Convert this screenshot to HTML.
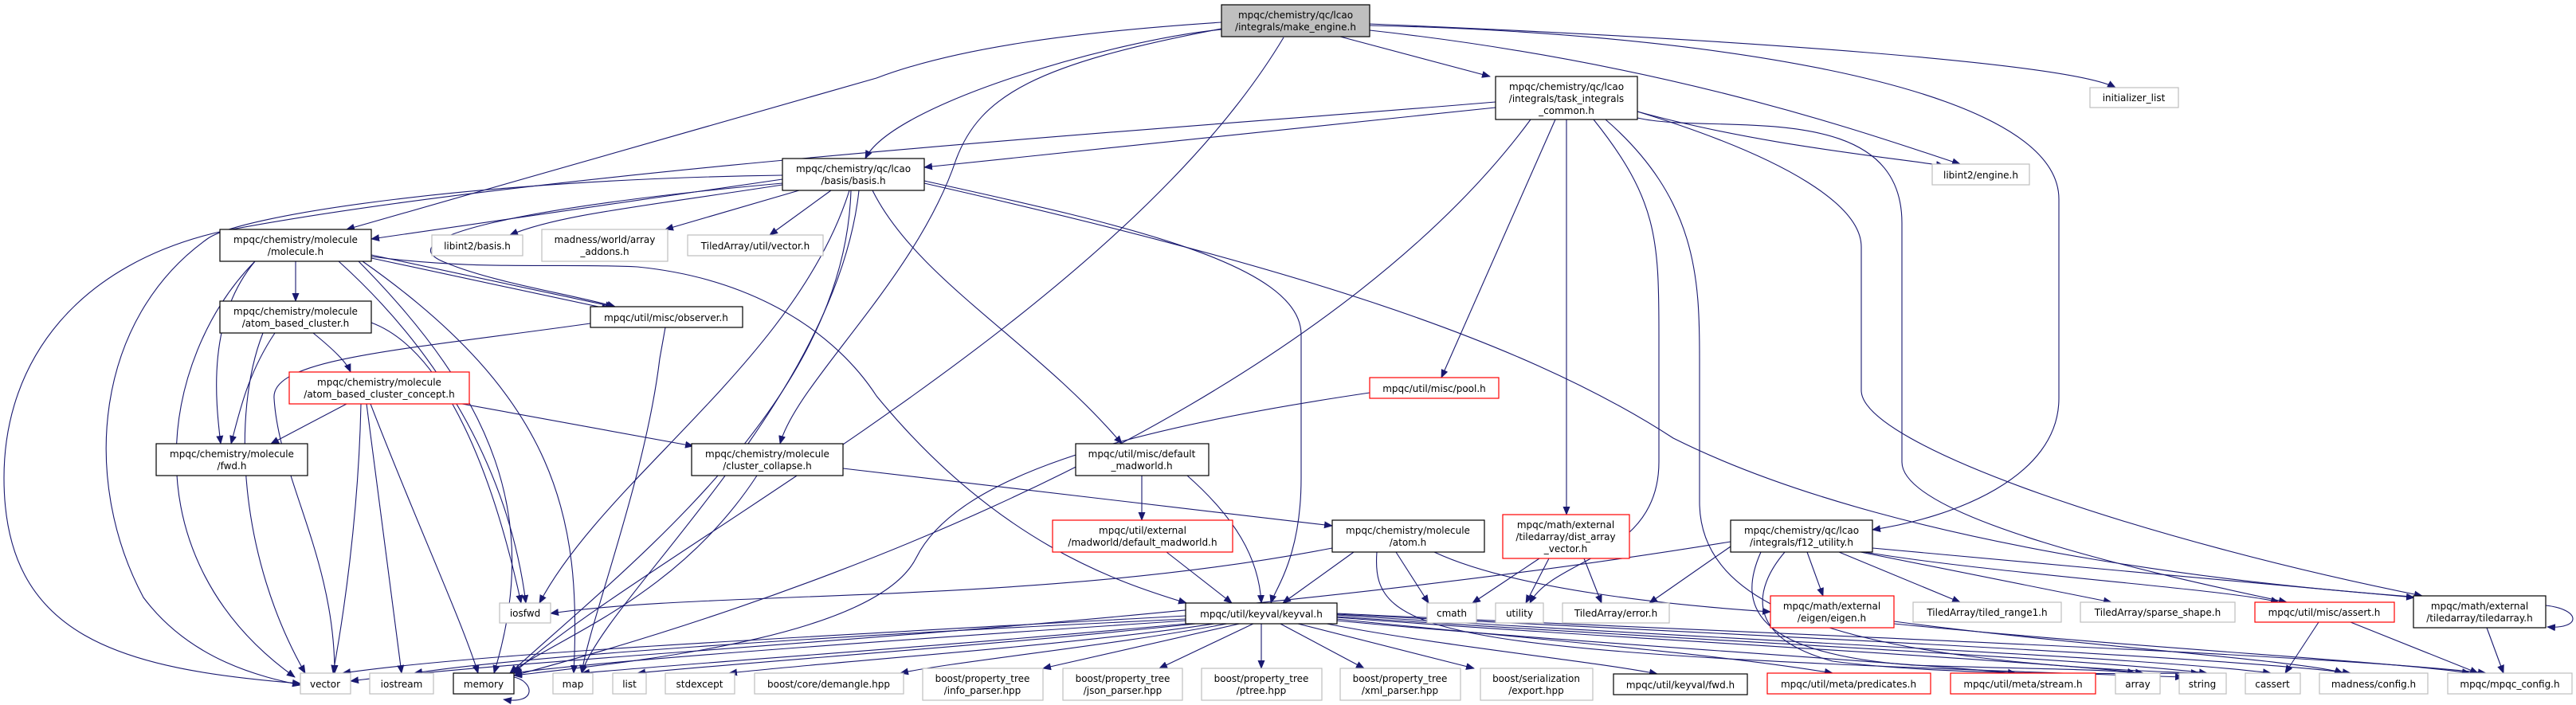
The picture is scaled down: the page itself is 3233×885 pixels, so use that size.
<!DOCTYPE html>
<html><head><meta charset="utf-8"><style>
html,body{margin:0;padding:0;background:#fff;}
svg{display:block;}
text{font-family:"DejaVu Sans","Liberation Sans",sans-serif;font-size:12px;fill:#000;text-anchor:middle;}
.e{fill:none;stroke:#191970;stroke-width:1.1;marker-end:url(#a);}
.b{fill:#fff;stroke:#000;stroke-width:1.2;}
.g{fill:#fff;stroke:#bfbfbf;stroke-width:1.2;}
.r{fill:#fff;stroke:#ff0000;stroke-width:1.2;}
</style></head><body>
<svg width="3233" height="885" viewBox="0 0 3233 885" xmlns="http://www.w3.org/2000/svg">
<defs><marker id="a" markerWidth="11" markerHeight="9" refX="10" refY="4.5" orient="auto" markerUnits="userSpaceOnUse"><path d="M0,0 L11,4.5 L0,9z" fill="#191970"/></marker></defs>
<!-- edges -->
<g>
<path class="e" d="M1682,46 L1870,96"/>
<path class="e" d="M1533,37 C1400,50 1120,130 1086,199"/>
<path class="e" d="M1533,28 C1350,40 1200,60 1100,98 L435,288"/>
<path class="e" d="M1533,36 C1300,80 1230,120 1200,200 C1150,350 1000,480 979,557"/>
<path class="e" d="M1611,47 C1400,400 800,700 645,845"/>
<path class="e" d="M1719,38 C2100,80 2350,170 2460,206"/>
<path class="e" d="M1719,30 C2200,50 2600,80 2655,110"/>
<path class="e" d="M1719,32 C2100,40 2584,100 2584,250 L2584,500 C2584,600 2450,650 2350,665"/>
<path class="e" d="M1877,135 L1160,210"/>
<path class="e" d="M1877,128 C1500,160 700,210 280,290 C100,330 5,450 5,600 C5,800 150,840 377,858"/>
<path class="e" d="M2055,140 C2200,180 2350,195 2440,208"/>
<path class="e" d="M1952,150 L1809,474"/>
<path class="e" d="M1966,150 L1966,646"/>
<path class="e" d="M1921,150 C1700,450 1200,700 645,848"/>
<path class="e" d="M2000,150 C2080,250 2082,300 2082,420 L2082,580 C2082,700 1950,700 1920,757"/>
<path class="e" d="M2015,150 C2130,250 2133,350 2133,450 L2133,630 C2133,760 2300,830 2760,845"/>
<path class="e" d="M2055,140 C2250,200 2336,260 2336,310 L2336,490 C2336,560 2700,680 3040,748"/>
<path class="e" d="M2055,148 C2150,170 2387,120 2387,280 L2387,580 C2387,650 2700,720 2870,756"/>
<path class="e" d="M982,225 L466,300"/>
<path class="e" d="M982,232 C800,260 700,270 640,295"/>
<path class="e" d="M1003,239 L835,288"/>
<path class="e" d="M1043,239 L966,295"/>
<path class="e" d="M982,220 C600,225 300,270 260,300 C120,400 100,600 180,750 C240,830 330,850 377,860"/>
<path class="e" d="M1066,239 C1000,450 760,600 677,757"/>
<path class="e" d="M1068,239 C1060,500 800,700 640,845"/>
<path class="e" d="M1078,239 C1050,500 760,750 730,845"/>
<path class="e" d="M1095,239 C1150,350 1300,430 1408,557"/>
<path class="e" d="M982,230 C650,260 480,300 560,330 C620,355 720,370 772,385"/>
<path class="e" d="M1160,227 C1400,280 1633,330 1633,420 L1633,600 C1633,700 1600,740 1595,757"/>
<path class="e" d="M1160,230 C1600,330 1900,420 2100,550 C2400,700 2900,740 3040,750"/>
<path class="e" d="M371,328 L371,378"/>
<path class="e" d="M320,328 C260,400 270,500 277,557"/>
<path class="e" d="M320,328 C200,450 160,700 370,850"/>
<path class="e" d="M425,328 C560,450 640,600 660,757"/>
<path class="e" d="M450,328 C620,500 680,650 620,845"/>
<path class="e" d="M455,328 C700,500 730,650 720,845"/>
<path class="e" d="M466,320 L770,385"/>
<path class="e" d="M466,324 L765,388"/>
<path class="e" d="M466,322 C600,340 700,330 800,335 C950,350 1050,420 1100,497 C1250,680 1400,730 1489,757"/>
<path class="e" d="M393,418 C420,440 435,455 440,467"/>
<path class="e" d="M345,418 C310,470 300,520 290,557"/>
<path class="e" d="M330,418 C290,520 300,700 383,845"/>
<path class="e" d="M466,405 C560,440 620,600 654,757"/>
<path class="e" d="M435,507 L340,557"/>
<path class="e" d="M580,507 L870,560"/>
<path class="e" d="M453,507 C450,650 430,780 418,845"/>
<path class="e" d="M460,507 L504,845"/>
<path class="e" d="M465,507 C520,650 580,780 600,845"/>
<path class="e" d="M741,406 C500,440 340,450 344,500 C350,600 420,700 420,845"/>
<path class="e" d="M835,411 L828,450 C810,600 740,780 730,845"/>
<path class="e" d="M1058,588 L1672,660"/>
<path class="e" d="M950,597 C850,750 700,800 640,845"/>
<path class="e" d="M1719,493 C1400,540 1200,600 1150,700 C1100,800 800,830 645,848"/>
<path class="e" d="M1433,597 L1433,653"/>
<path class="e" d="M1490,597 C1550,650 1580,700 1583,757"/>
<path class="e" d="M1464,693 L1546,757"/>
<path class="e" d="M1699,693 L1610,757"/>
<path class="e" d="M1672,688 C1300,760 900,740 691,770"/>
<path class="e" d="M1752,693 L1793,757"/>
<path class="e" d="M1800,693 C1900,740 2100,760 2222,768"/>
<path class="e" d="M1728,693 C1720,800 1800,820 2740,850"/>
<path class="e" d="M1932,701 L1848,757"/>
<path class="e" d="M1944,701 L1915,757"/>
<path class="e" d="M1988,701 L2010,757"/>
<path class="e" d="M2172,680 C1500,790 700,820 440,855"/>
<path class="e" d="M2172,686 L2070,757"/>
<path class="e" d="M2268,693 L2288,748"/>
<path class="e" d="M2308,693 L2460,756"/>
<path class="e" d="M2335,693 L2650,756"/>
<path class="e" d="M2340,693 C2500,720 2800,740 2860,756"/>
<path class="e" d="M2350,688 C2700,720 2900,740 3030,750"/>
<path class="e" d="M2240,693 C2200,740 2190,800 2300,830 C2450,850 2700,845 2760,845"/>
<path class="e" d="M2210,693 C2180,760 2200,820 2400,835 C2550,840 2650,840 2680,845"/>
<!-- keyval out -->
<path class="e" d="M1489,773 C1000,800 600,820 430,845"/>
<path class="e" d="M1489,777 C1000,800 650,825 520,845"/>
<path class="e" d="M1489,779 C1100,805 750,830 645,845"/>
<path class="e" d="M1500,782 C1200,810 900,830 730,845"/>
<path class="e" d="M1510,782 C1250,810 950,830 800,845"/>
<path class="e" d="M1530,782 C1350,810 1050,830 915,845"/>
<path class="e" d="M1545,782 C1400,810 1200,830 1130,845"/>
<path class="e" d="M1560,782 L1309,839"/>
<path class="e" d="M1575,782 L1455,839"/>
<path class="e" d="M1583,782 L1583,839"/>
<path class="e" d="M1605,782 L1712,839"/>
<path class="e" d="M1625,782 L1850,839"/>
<path class="e" d="M1660,782 C1800,810 2000,830 2080,846"/>
<path class="e" d="M1677,777 C1900,800 2150,820 2300,845"/>
<path class="e" d="M1677,779 C1950,805 2300,825 2530,845"/>
<path class="e" d="M1677,775 C2000,800 2500,825 2690,845"/>
<path class="e" d="M1677,774 C2050,800 2600,825 2770,845"/>
<path class="e" d="M1677,772 C2100,800 2700,825 2850,845"/>
<path class="e" d="M1677,771 C2150,795 2800,825 2950,845"/>
<path class="e" d="M1677,770 C2200,795 2900,820 3120,845"/>
<path class="e" d="M2377,780 C2600,810 2900,830 2940,845"/>
<path class="e" d="M2377,783 C2700,815 3000,830 3100,845"/>
<path class="e" d="M2910,781 L2868,845"/>
<path class="e" d="M2950,781 L3110,845"/>
<path class="e" d="M3121,788 L3142,845"/>
<path class="e" d="M3195,760 C3240,765 3240,790 3197,787"/>
<path class="e" d="M645,850 C670,855 675,885 632,878"/>
</g>
<!-- nodes -->
<rect x="1533" y="6" width="186" height="40" fill="#bfbfbf" stroke="#000" stroke-width="1.2"/>
<text x="1626" y="23">mpqc/chemistry/qc/lcao</text><text x="1626" y="38">/integrals/make_engine.h</text>
<rect class="b" x="1877" y="96" width="178" height="54"/>
<text x="1966" y="113">mpqc/chemistry/qc/lcao</text><text x="1966" y="128">/integrals/task_integrals</text><text x="1966" y="143">_common.h</text>
<rect class="g" x="2623" y="110" width="111" height="25"/><text x="2678" y="127">initializer_list</text>
<rect class="g" x="2425" y="206" width="122" height="26"/><text x="2486" y="224">libint2/engine.h</text>
<rect class="b" x="982" y="199" width="178" height="40"/>
<text x="1071" y="216">mpqc/chemistry/qc/lcao</text><text x="1071" y="231">/basis/basis.h</text>
<rect class="b" x="276" y="288" width="190" height="40"/>
<text x="371" y="305">mpqc/chemistry/molecule</text><text x="371" y="320">/molecule.h</text>
<rect class="g" x="542" y="295" width="114" height="26"/><text x="599" y="313">libint2/basis.h</text>
<rect class="g" x="680" y="288" width="158" height="40"/><text x="759" y="305">madness/world/array</text><text x="759" y="320">_addons.h</text>
<rect class="g" x="863" y="295" width="170" height="26"/><text x="948" y="313">TiledArray/util/vector.h</text>
<rect class="b" x="276" y="378" width="190" height="40"/>
<text x="371" y="395">mpqc/chemistry/molecule</text><text x="371" y="410">/atom_based_cluster.h</text>
<rect class="b" x="741" y="385" width="191" height="26"/><text x="836" y="403">mpqc/util/misc/observer.h</text>
<rect class="r" x="363" y="467" width="226" height="40"/>
<text x="476" y="484">mpqc/chemistry/molecule</text><text x="476" y="499">/atom_based_cluster_concept.h</text>
<rect class="b" x="196" y="557" width="190" height="40"/>
<text x="291" y="574">mpqc/chemistry/molecule</text><text x="291" y="589">/fwd.h</text>
<rect class="b" x="868" y="557" width="190" height="40"/>
<text x="963" y="574">mpqc/chemistry/molecule</text><text x="963" y="589">/cluster_collapse.h</text>
<rect class="r" x="1719" y="474" width="162" height="26"/><text x="1800" y="492">mpqc/util/misc/pool.h</text>
<rect class="b" x="1350" y="557" width="167" height="40"/>
<text x="1433" y="574">mpqc/util/misc/default</text><text x="1433" y="589">_madworld.h</text>
<rect class="r" x="1321" y="653" width="226" height="40"/>
<text x="1434" y="670">mpqc/util/external</text><text x="1434" y="685">/madworld/default_madworld.h</text>
<rect class="b" x="1672" y="653" width="191" height="40"/>
<text x="1767" y="670">mpqc/chemistry/molecule</text><text x="1767" y="685">/atom.h</text>
<rect class="r" x="1886" y="646" width="159" height="55"/>
<text x="1965" y="663">mpqc/math/external</text><text x="1965" y="678">/tiledarray/dist_array</text><text x="1965" y="693">_vector.h</text>
<rect class="b" x="2172" y="653" width="178" height="40"/>
<text x="2261" y="670">mpqc/chemistry/qc/lcao</text><text x="2261" y="685">/integrals/f12_utility.h</text>
<rect class="g" x="627" y="757" width="64" height="25"/><text x="659" y="774">iosfwd</text>
<rect class="b" x="1488" y="757" width="190" height="26"/><text x="1583" y="775">mpqc/util/keyval/keyval.h</text>
<rect class="g" x="1791" y="757" width="62" height="25"/><text x="1822" y="774">cmath</text>
<rect class="g" x="1877" y="757" width="60" height="25"/><text x="1907" y="774">utility</text>
<rect class="g" x="1961" y="757" width="134" height="25"/><text x="2028" y="774">TiledArray/error.h</text>
<rect class="r" x="2222" y="748" width="155" height="40"/><text x="2299" y="765">mpqc/math/external</text><text x="2299" y="780">/eigen/eigen.h</text>
<rect class="g" x="2401" y="756" width="186" height="25"/><text x="2494" y="773">TiledArray/tiled_range1.h</text>
<rect class="g" x="2611" y="756" width="194" height="25"/><text x="2708" y="773">TiledArray/sparse_shape.h</text>
<rect class="r" x="2830" y="756" width="175" height="25"/><text x="2917" y="773">mpqc/util/misc/assert.h</text>
<rect class="b" x="3029" y="748" width="166" height="40"/><text x="3112" y="765">mpqc/math/external</text><text x="3112" y="780">/tiledarray/tiledarray.h</text>
<!-- bottom row -->
<rect class="g" x="377" y="845" width="63" height="26"/><text x="408" y="863">vector</text>
<rect class="g" x="464" y="845" width="80" height="26"/><text x="504" y="863">iostream</text>
<rect class="b" x="569" y="845" width="76" height="26"/><text x="607" y="863">memory</text>
<rect class="g" x="694" y="845" width="50" height="26"/><text x="719" y="863">map</text>
<rect class="g" x="769" y="845" width="42" height="26"/><text x="790" y="863">list</text>
<rect class="g" x="835" y="845" width="87" height="26"/><text x="878" y="863">stdexcept</text>
<rect class="g" x="947" y="845" width="187" height="26"/><text x="1040" y="863">boost/core/demangle.hpp</text>
<rect class="g" x="1158" y="839" width="151" height="40"/><text x="1233" y="856">boost/property_tree</text><text x="1233" y="871">/info_parser.hpp</text>
<rect class="g" x="1334" y="839" width="150" height="40"/><text x="1409" y="856">boost/property_tree</text><text x="1409" y="871">/json_parser.hpp</text>
<rect class="g" x="1508" y="839" width="151" height="40"/><text x="1583" y="856">boost/property_tree</text><text x="1583" y="871">/ptree.hpp</text>
<rect class="g" x="1682" y="839" width="151" height="40"/><text x="1757" y="856">boost/property_tree</text><text x="1757" y="871">/xml_parser.hpp</text>
<rect class="g" x="1858" y="839" width="141" height="40"/><text x="1928" y="856">boost/serialization</text><text x="1928" y="871">/export.hpp</text>
<rect class="b" x="2025" y="846" width="168" height="26"/><text x="2109" y="864">mpqc/util/keyval/fwd.h</text>
<rect class="r" x="2218" y="845" width="205" height="26"/><text x="2320" y="863">mpqc/util/meta/predicates.h</text>
<rect class="r" x="2448" y="845" width="182" height="26"/><text x="2539" y="863">mpqc/util/meta/stream.h</text>
<rect class="g" x="2655" y="845" width="56" height="26"/><text x="2683" y="863">array</text>
<rect class="g" x="2735" y="845" width="59" height="26"/><text x="2764" y="863">string</text>
<rect class="g" x="2818" y="845" width="69" height="26"/><text x="2852" y="863">cassert</text>
<rect class="g" x="2911" y="845" width="136" height="26"/><text x="2979" y="863">madness/config.h</text>
<rect class="g" x="3072" y="845" width="156" height="26"/><text x="3150" y="863">mpqc/mpqc_config.h</text>
</svg>
</body></html>
